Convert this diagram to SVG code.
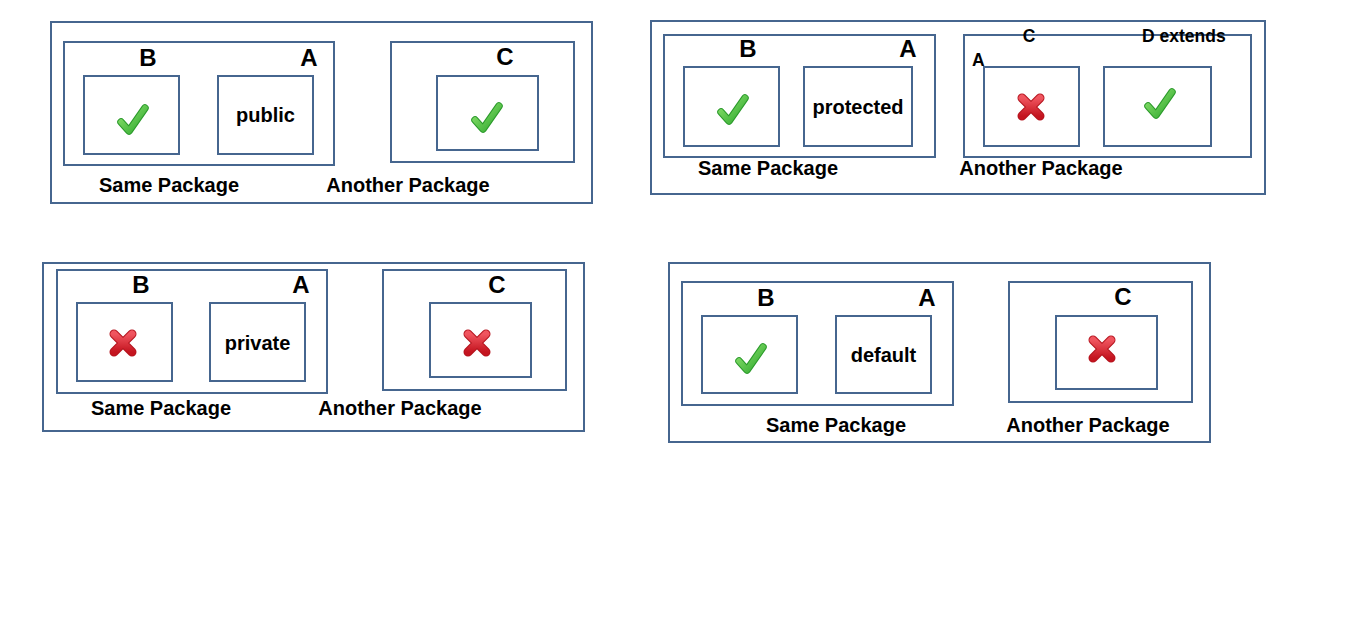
<svg xmlns="http://www.w3.org/2000/svg" width="1354" height="623" viewBox="0 0 1354 623">
<style>
.box{fill:#fff;stroke:#46668f;stroke-width:2}
.pk{fill:none;stroke:#46668f;stroke-width:2}
.big{font-family:"Liberation Sans",Arial,sans-serif;font-weight:bold;font-size:24px;fill:#000;text-anchor:middle}
.lbl{font-family:"Liberation Sans",Arial,sans-serif;font-weight:bold;font-size:20px;fill:#000;text-anchor:middle}
.sm{font-family:"Liberation Sans",Arial,sans-serif;font-weight:bold;font-size:17.5px;fill:#000}
.xs{font-family:"Liberation Sans",Arial,sans-serif;font-weight:bold;font-size:17.5px;fill:#000}
</style>
<defs>
<linearGradient id="gc" x1="0" y1="0" x2="1" y2="1">
<stop offset="0" stop-color="#8fe36f"/>
<stop offset="1" stop-color="#2ea82e"/>
</linearGradient>
<linearGradient id="rc" x1="0" y1="0" x2="0" y2="1">
<stop offset="0" stop-color="#f0555f"/>
<stop offset="1" stop-color="#c4141f"/>
</linearGradient>
<symbol id="check" viewBox="0 0 32 32" overflow="visible">
<path d="M4,19 L12,28 L28,5" fill="none" stroke="#2a9a2a" stroke-width="7.5" stroke-linecap="round" stroke-linejoin="round"/>
<path d="M4,19 L12,28 L28,5" fill="none" stroke="url(#gc)" stroke-width="5.5" stroke-linecap="round" stroke-linejoin="round"/>
</symbol>
<symbol id="cross" viewBox="0 0 28 28" overflow="visible">
<path d="M5,5 L23,23 M23,5 L5,23" fill="none" stroke="#b3121c" stroke-width="9" stroke-linecap="round"/>
<path d="M5,5 L23,23 M23,5 L5,23" fill="none" stroke="url(#rc)" stroke-width="7" stroke-linecap="round"/>
</symbol>
</defs>

<g id="panel-public">
<rect class="pk" x="51" y="22" width="541" height="181"/>
<rect class="pk" x="64" y="42" width="270" height="123"/>
<rect class="pk" x="391" y="42" width="183" height="120"/>
<text class="big" x="148" y="66">B</text>
<text class="big" x="309" y="66">A</text>
<text class="big" x="505" y="65">C</text>
<g id="p1-b"><rect class="box" x="84" y="76" width="95" height="78"/><use href="#check" x="117" y="103" width="32" height="32"/></g>
<g id="p1-a"><rect class="box" x="218" y="76" width="95" height="78"/><text class="lbl" x="265.5" y="122">public</text></g>
<g id="p1-c"><rect class="box" x="437" y="76" width="101" height="74"/><use href="#check" x="471" y="101" width="32" height="32"/></g>
<text class="lbl" x="169" y="192">Same Package</text>
<text class="lbl" x="408" y="192">Another Package</text>
</g>

<g id="panel-protected">
<rect class="pk" x="651" y="21" width="614" height="173"/>
<rect class="pk" x="664" y="35" width="271" height="122"/>
<rect class="pk" x="964" y="35" width="287" height="122"/>
<text class="big" x="748" y="57">B</text>
<text class="big" x="908" y="57">A</text>
<text class="sm" x="1029" y="42" text-anchor="middle">C</text>
<text class="sm" x="1142" y="42">D <tspan class="xs">extends</tspan></text>
<text class="sm" x="972" y="66">A</text>
<g id="p2-b"><rect class="box" x="684" y="67" width="95" height="79"/><use href="#check" x="717" y="93" width="32" height="32"/></g>
<g id="p2-a"><rect class="box" x="804" y="67" width="108" height="79"/><text class="lbl" x="858" y="114">protected</text></g>
<g id="p2-c"><rect class="box" x="984" y="67" width="95" height="79"/><use href="#cross" x="1017" y="93" width="28" height="28"/></g>
<g id="p2-d"><rect class="box" x="1104" y="67" width="107" height="79"/><use href="#check" x="1144" y="87" width="32" height="32"/></g>
<text class="lbl" x="768" y="175">Same Package</text>
<text class="lbl" x="1041" y="175">Another Package</text>
</g>

<g id="panel-private">
<rect class="pk" x="43" y="263" width="541" height="168"/>
<rect class="pk" x="57" y="270" width="270" height="123"/>
<rect class="pk" x="383" y="270" width="183" height="120"/>
<text class="big" x="141" y="293">B</text>
<text class="big" x="301" y="293">A</text>
<text class="big" x="497" y="293">C</text>
<g id="p3-b"><rect class="box" x="77" y="303" width="95" height="78"/><use href="#cross" x="109" y="329" width="28" height="28"/></g>
<g id="p3-a"><rect class="box" x="210" y="303" width="95" height="78"/><text class="lbl" x="257.5" y="350">private</text></g>
<g id="p3-c"><rect class="box" x="430" y="303" width="101" height="74"/><use href="#cross" x="463" y="329" width="28" height="28"/></g>
<text class="lbl" x="161" y="415">Same Package</text>
<text class="lbl" x="400" y="415">Another Package</text>
</g>

<g id="panel-default">
<rect class="pk" x="669" y="263" width="541" height="179"/>
<rect class="pk" x="682" y="282" width="271" height="123"/>
<rect class="pk" x="1009" y="282" width="183" height="120"/>
<text class="big" x="766" y="306">B</text>
<text class="big" x="927" y="306">A</text>
<text class="big" x="1123" y="305">C</text>
<g id="p4-b"><rect class="box" x="702" y="316" width="95" height="77"/><use href="#check" x="735" y="342" width="32" height="32"/></g>
<g id="p4-a"><rect class="box" x="836" y="316" width="95" height="77"/><text class="lbl" x="883.5" y="362">default</text></g>
<g id="p4-c"><rect class="box" x="1056" y="316" width="101" height="73"/><use href="#cross" x="1088" y="335" width="28" height="28"/></g>
<text class="lbl" x="836" y="432">Same Package</text>
<text class="lbl" x="1088" y="432">Another Package</text>
</g>
</svg>
